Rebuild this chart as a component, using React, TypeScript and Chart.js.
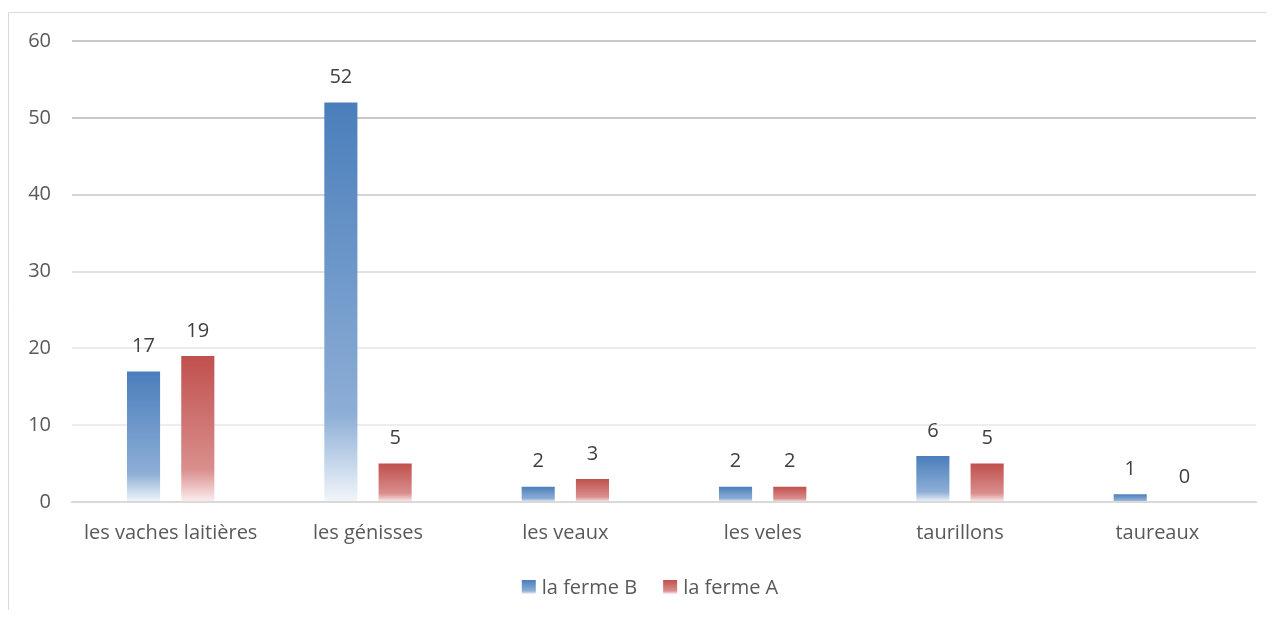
import React, { useEffect, useRef } from "react";
import { Chart, registerables } from "chart.js";

Chart.register(...registerables);

const categories = ["les vaches laitières", "les génisses", "les veaux", "les veles", "taurillons", "taureaux"];
const fermeB = [17, 52, 2, 2, 6, 1];
const fermeA = [19, 5, 3, 2, 5, 0];
const seriesNames = ["la ferme B", "la ferme A"];
const yTicks = [0, 10, 20, 30, 40, 50, 60];

const FONT = "'Open Sans', sans-serif";
const FS = 20;
const BLUE_STOPS = ["#4A7EBB", "#8DAED6", "#F2F6FB"];
const RED_STOPS = ["#C0504D", "#D98F8D", "#FBF0F0"];
const GRID_COLORS: Record<number, string> = {
  0: "#D9D9D9", 10: "#EDEDED", 20: "#EAEAEA", 30: "#E3E3E3", 40: "#D6D6D6", 50: "#C8C8C8", 60: "#C8C8C8",
};

function makeGrad(ctx: CanvasRenderingContext2D, top: number, bottom: number, stops: string[]) {
  const g = ctx.createLinearGradient(0, top, 0, bottom);
  g.addColorStop(0, stops[0]);
  g.addColorStop(0.78, stops[1]);
  g.addColorStop(1, stops[2]);
  return g;
}

function barColor(stops: string[]) {
  return (c: any) => {
    const chart = c.chart;
    const area = chart.chartArea;
    const y = chart.scales && chart.scales.y;
    if (!area || !y || c.type !== "data") return stops[0];
    const top = y.getPixelForValue(c.raw);
    const bottom = y.getPixelForValue(0);
    if (Math.abs(bottom - top) < 1) return stops[0];
    return makeGrad(chart.ctx, top, bottom, stops);
  };
}

const extrasPlugin = {
  id: "extras",
  beforeDraw(chart: any) {
    const ctx = chart.ctx;
    ctx.save();
    ctx.strokeStyle = "#D9D9D9";
    ctx.lineWidth = 1;
    ctx.beginPath();
    ctx.moveTo(0.5, chart.height + 5);
    ctx.lineTo(0.5, 4.5);
    ctx.lineTo(chart.width + 5, 4.5);
    ctx.stroke();
    ctx.restore();
  },
  afterDatasetsDraw(chart: any) {
    const ctx = chart.ctx;
    ctx.save();
    ctx.font = `${FS}px ${FONT}`;
    ctx.fillStyle = "#404040";
    ctx.textAlign = "center";
    ctx.textBaseline = "middle";
    chart.data.datasets.forEach((ds: any, i: number) => {
      const meta = chart.getDatasetMeta(i);
      meta.data.forEach((bar: any, j: number) => {
        ctx.fillText(String(ds.data[j]), bar.x, bar.y - 25);
      });
    });
    // legend
    const stopsList = [BLUE_STOPS, RED_STOPS];
    const box = 14;
    const gapText = 6;
    const gapItem = 26;
    const widths = seriesNames.map((n) => ctx.measureText(n).width);
    const total = widths.reduce((a, w) => a + box + gapText + w, 0) + gapItem * (seriesNames.length - 1);
    let x = 642 - total / 2;
    const cy = 579;
    ctx.textAlign = "left";
    seriesNames.forEach((n, i) => {
      ctx.fillStyle = makeGrad(ctx, cy - box / 2, cy + box / 2, stopsList[i]);
      ctx.fillRect(x, cy - box / 2, box, box);
      ctx.fillStyle = "#595959";
      ctx.fillText(n, x + box + gapText, cy + 1);
      x += box + gapText + widths[i] + gapItem;
    });
    ctx.restore();
  },
};

export default function App() {
  const ref = useRef<HTMLCanvasElement>(null);
  useEffect(() => {
    if (!ref.current) return;
    const chart = new Chart(ref.current, {
      type: "bar",
      data: {
        labels: categories,
        datasets: [
          { label: seriesNames[0], data: fermeB, backgroundColor: barColor(BLUE_STOPS) as any, categoryPercentage: 0.55, barPercentage: 0.61 },
          { label: seriesNames[1], data: fermeA, backgroundColor: barColor(RED_STOPS) as any, categoryPercentage: 0.55, barPercentage: 0.61 },
        ],
      },
      options: {
        animation: false,
        responsive: true,
        maintainAspectRatio: false,
        layout: { padding: { top: 33, right: 10, bottom: 58, left: 0 } },
        plugins: { legend: { display: false }, tooltip: { enabled: false } },
        scales: {
          x: {
            grid: { display: false, drawTicks: false },
            border: { color: "#D9D9D9", width: 2 },
            ticks: { color: "#595959", font: { family: FONT, size: FS }, padding: 19, maxRotation: 0, autoSkip: false },
            afterFit: (s: any) => { s.height = 50; },
          },
          y: {
            min: 0,
            max: 60,
            afterBuildTicks: (s: any) => { s.ticks = yTicks.map((v) => ({ value: v })); },
            grid: {
              color: (c: any) => GRID_COLORS[c.tick ? c.tick.value : 0] || "#D9D9D9",
              lineWidth: 2,
              drawTicks: false,
            },
            border: { display: false },
            ticks: { color: "#595959", font: { family: FONT, size: FS }, padding: 21 },
            afterFit: (s: any) => { s.width = 64; },
          },
        },
      },
      plugins: [extrasPlugin],
    });
    return () => chart.destroy();
  }, []);
  return (
    <div style={{ width: 1258, height: 602, position: "relative" }}>
      <canvas ref={ref} style={{ display: "block" }} />
    </div>
  );
}
